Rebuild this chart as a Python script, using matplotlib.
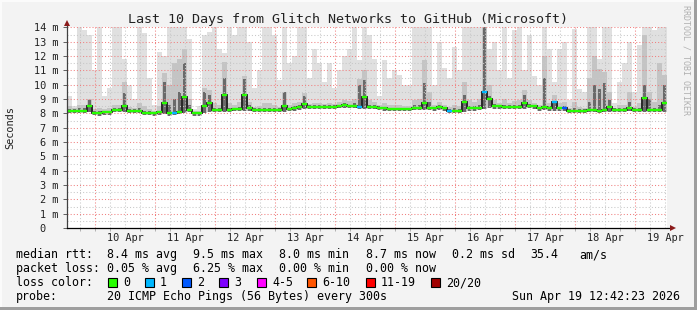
import numpy as np
import pandas as pd
import matplotlib
matplotlib.use("Agg")
import matplotlib.pyplot as plt
from matplotlib.patches import Rectangle

# ---- data (one value per 2 h bin, 10 days, ms) ----
median = [
    8.2, 8.2, 8.2, 8.2, 8.5, 8.05, 8.0, 8.1, 8.1, 8.25,
    8.25, 8.5, 8.2, 8.2, 8.2, 8.05, 8.05, 8.0, 8.1, 8.75,
    8.0, 8.05, 8.1, 9.15, 8.25, 8.0, 8.0, 8.5, 8.7, 8.25,
    8.25, 9.3, 8.25, 8.3, 8.3, 9.3, 8.4, 8.25, 8.25, 8.25,
    8.25, 8.25, 8.25, 8.5, 8.3, 8.4, 8.45, 8.65, 8.45, 8.45,
    8.45, 8.45, 8.45, 8.45, 8.5, 8.55, 8.5, 8.5, 8.45, 9.15,
    8.45, 8.45, 8.4, 8.35, 8.3, 8.3, 8.3, 8.3, 8.3, 8.4,
    8.4, 8.75, 8.4, 8.35, 8.45, 8.35, 8.2, 8.2, 8.2, 8.8,
    8.35, 8.35, 8.4, 9.5, 9.0, 8.5, 8.5, 8.45, 8.45, 8.45,
    8.45, 8.75, 8.5, 8.5, 8.35, 8.45, 8.35, 8.8, 8.35, 8.35,
    8.2, 8.2, 8.2, 8.2, 8.25, 8.25, 8.2, 8.25, 8.45, 8.25,
    8.25, 8.25, 8.4, 8.25, 8.25, 9.1, 8.25, 8.25, 8.25, 8.75,
]
ping_max = [
    9.2, 8.5, 14, 13.8, 13.5, 11.0, 14, 9.2, 9.8, 14,
    14, 11.8, 10.0, 9.0, 14, 13.6, 10.5, 8.6, 12.3, 12.0,
    14, 14, 14, 14, 13.2, 8.3, 8.5, 13.5, 13.7, 14,
    12.5, 12.2, 14, 13.5, 14, 14, 13.0, 9.8, 11.0, 14,
    14, 13.5, 10.3, 14, 11.5, 12.0, 14, 14, 10.5, 12.5,
    11.5, 10.2, 11.5, 9.8, 11.0, 12.0, 12.5, 14, 11.7, 14,
    13.5, 11.8, 9.2, 11.7, 10.5, 11.0, 10.7, 10.0, 10.0, 14,
    14, 14, 14, 10.0, 13.0, 11.2, 10.5, 12.6, 11.0, 14,
    14, 14, 14, 14, 12.5, 13.0, 11.0, 14, 10.5, 13.8,
    14, 11.0, 13.5, 10.6, 10.0, 14, 12.5, 10.2, 12.5, 13.0,
    8.9, 13.9, 9.7, 9.5, 14, 14, 11.8, 14, 14, 8.7,
    10.2, 11.5, 13.0, 9.5, 12.8, 14, 14, 13.8, 14, 14,
]
ping_p90 = [
    8.5, 8.35, 8.6, 8.6, 9.0, 8.3, 8.4, 8.3, 8.35, 8.6,
    8.6, 10.2, 8.45, 8.4, 8.7, 8.5, 8.3, 8.2, 8.5, 10.8,
    10.0, 11.5, 11.8, 12.5, 9.0, 8.15, 8.2, 9.8, 9.6, 8.7,
    8.6, 11.6, 8.7, 8.6, 8.8, 10.6, 8.8, 8.45, 8.5, 8.7,
    8.7, 8.6, 8.45, 9.5, 8.55, 8.7, 8.8, 9.4, 8.65, 8.75,
    8.7, 8.65, 8.7, 8.65, 8.8, 8.9, 8.85, 9.0, 10.4, 11.0,
    8.9, 8.8, 8.6, 8.7, 8.55, 8.6, 8.55, 8.5, 8.5, 8.9,
    9.0, 11.7, 9.5, 8.6, 8.8, 8.6, 8.45, 8.6, 8.5, 10.2,
    8.9, 8.8, 9.0, 14.0, 10.0, 8.9, 8.7, 9.0, 8.7, 8.85,
    8.9, 9.6, 8.9, 8.7, 8.6, 12.0, 8.75, 9.3, 8.7, 8.8,
    8.4, 8.8, 8.45, 8.4, 10.5, 12.0, 11.1, 10.9, 9.5, 8.4,
    8.6, 8.6, 9.5, 8.45, 8.7, 13.5, 9.5, 8.8, 11.5, 10.7,
]
ping_p75 = [
    8.3, 8.3, 8.35, 8.35, 8.9, 8.15, 8.15, 8.2, 8.2, 8.35,
    8.35, 9.4, 8.3, 8.3, 8.35, 8.2, 8.15, 8.1, 8.2, 10.2,
    8.6, 9.0, 9.5, 11.5, 8.6, 8.1, 8.1, 9.5, 9.3, 8.4,
    8.35, 10.5, 8.4, 8.4, 8.45, 10.4, 8.6, 8.35, 8.35, 8.4,
    8.4, 8.35, 8.35, 9.5, 8.4, 8.5, 8.6, 9.2, 8.55, 8.55,
    8.55, 8.55, 8.55, 8.55, 8.6, 8.7, 8.6, 8.7, 10.0, 10.3,
    8.6, 8.55, 8.5, 8.45, 8.4, 8.4, 8.4, 8.4, 8.4, 8.55,
    8.6, 10.1, 8.8, 8.45, 8.6, 8.45, 8.3, 8.35, 8.3, 9.3,
    8.5, 8.5, 8.6, 14.0, 9.2, 8.65, 8.6, 8.6, 8.55, 8.6,
    8.6, 9.3, 8.65, 8.6, 8.45, 10.5, 8.5, 8.85, 8.45, 8.5,
    8.3, 8.4, 8.3, 8.3, 8.8, 10.0, 9.7, 10.1, 8.9, 8.35,
    8.4, 8.4, 8.8, 8.35, 8.4, 10.0, 9.0, 8.4, 8.6, 10.0,
]
ping_min = [
    8.05, 8.05, 8.05, 8.05, 8.1, 7.9, 7.85, 7.9, 7.9, 8.1,
    8.1, 8.1, 8.05, 8.05, 8.05, 7.9, 7.9, 7.85, 7.9, 7.95,
    7.85, 7.9, 7.95, 8.0, 8.1, 7.85, 7.85, 8.05, 8.1, 8.1,
    8.1, 8.1, 8.1, 8.15, 8.15, 8.15, 8.2, 8.1, 8.1, 8.1,
    8.1, 8.1, 8.1, 8.1, 8.15, 8.2, 8.25, 8.3, 8.3, 8.3,
    8.3, 8.3, 8.3, 8.3, 8.35, 8.35, 8.35, 8.35, 8.3, 8.3,
    8.3, 8.3, 8.25, 8.2, 8.15, 8.15, 8.15, 8.15, 8.15, 8.25,
    8.25, 8.25, 8.25, 8.2, 8.25, 8.2, 8.05, 8.05, 8.05, 8.1,
    8.2, 8.2, 8.25, 8.3, 8.4, 8.3, 8.3, 8.3, 8.3, 8.3,
    8.3, 8.3, 8.35, 8.3, 8.2, 8.25, 8.2, 8.2, 8.2, 8.2,
    8.05, 8.05, 8.05, 8.05, 8.1, 8.1, 8.05, 8.1, 8.1, 8.1,
    8.1, 8.1, 8.2, 8.1, 8.1, 8.1, 8.1, 8.1, 8.1, 8.1,
]
lost_pings = [0] * 120
for i, n in [(21, 1), (58, 1), (76, 1), (83, 1), (97, 1), (99, 2)]:
    lost_pings[i] = n

loss_labels = ["0", "1", "2", "3", "4-5", "6-10", "11-19", "20/20"]
loss_colors = ["#26ff00", "#00b8ff", "#0059ff", "#7e00ff",
               "#ff00ff", "#ff5500", "#ff0000", "#a10000"]
loss_upper = [0, 1, 2, 3, 5, 10, 19, 20]

end_time = pd.Timestamp("2026-04-19 12:42:23")
start_time = end_time - pd.Timedelta(days=10)
day_labels = ["10 Apr", "11 Apr", "12 Apr", "13 Apr", "14 Apr",
              "15 Apr", "16 Apr", "17 Apr", "18 Apr", "19 Apr"]

title = "Last 10 Days from Glitch Networks to GitHub (Microsoft)"
rtt_stats = ["8.4 ms avg", "9.5 ms max", "8.0 ms min", "8.7 ms now",
             "0.2 ms sd", "35.4", "am/s"]
loss_stats = ["0.05 % avg", "6.25 % max", "0.00 % min", "0.00 % now"]
probe_text = "20 ICMP Echo Pings (56 Bytes) every 300s"
stamp = end_time.strftime("%a %b %d %H:%M:%S %Y")

# ---- figure ----
W, H = 697, 310
MONO = "DejaVu Sans Mono"
plt.rcParams["font.family"] = MONO

fig = plt.figure(figsize=(W / 100, H / 100), dpi=100, facecolor="#f3f3f3")


def fx(x):
    return x / W


def fy(y):
    return 1 - y / H


ax = fig.add_axes([fx(67), fy(228), 600 / W, (228 - 27.4) / H])
ax.set_facecolor("white")
ax.set_xlim(0, 240)
ax.set_ylim(0, 14)

hours = (end_time - start_time) / pd.Timedelta(hours=1)
edges = np.linspace(0, hours, len(median) + 1)
centers = (edges[:-1] + edges[1:]) / 2
bin_w = edges[1] - edges[0]

# smoke
ax.stairs(ping_max, edges, baseline=ping_min, fill=True, color="#e0e0e0", zorder=1)
ax.stairs(ping_p90, edges, baseline=ping_min, fill=True, color="#c4c4c4", zorder=1.2)
ax.bar(centers, np.subtract(ping_p75, ping_min), bottom=ping_min,
       width=bin_w * 0.6, color="#6a6a6a", lw=0, zorder=1.4)

# grid
sixes = pd.date_range(start_time.ceil("6h"), end_time, freq="6h")
to_h = lambda ts: (ts - start_time) / pd.Timedelta(hours=1)
dot = (0, (1, 2))
for v in np.arange(0.5, 14.01, 0.5):
    major = float(v).is_integer()
    ax.axhline(v, color="#f08080" if major else "#c8c8c8", lw=0.75,
               ls=dot, zorder=2)
for t in sixes:
    major = t.hour == 0
    ax.axvline(to_h(t), color="#f08080" if major else "#c8c8c8", lw=0.75,
               ls=dot, zorder=2)

# median line
ax.stairs(median, edges, baseline=None, color="#1a1a1a", lw=1.3, zorder=3)
seg_colors = [loss_colors[next(k for k, u in enumerate(loss_upper) if n <= u)]
              for n in lost_pings]
ax.hlines(median, edges[:-1], edges[1:], colors=seg_colors, lw=1.7, zorder=4)

# axes
for s in ax.spines.values():
    s.set_visible(False)
ax.plot([0, 0], [0, 14.15], color="#404040", lw=0.9, clip_on=False, zorder=5)
ax.plot([0, 241.5], [0, 0], color="black", lw=0.9, clip_on=False, zorder=5)
ax.plot([0], [14.3], marker="^", ms=4.5, color="#8b1a1a", mew=0,
        clip_on=False, zorder=6)
ax.plot([242.3], [0], marker=">", ms=4.5, color="#8b1a1a", mew=0,
        clip_on=False, zorder=6)

ax.set_yticks(range(0, 15))
ax.set_yticklabels(["0  "] + [f"{v} m" for v in range(1, 15)])
ax.tick_params(axis="y", length=3, width=0.7, color="#606060", pad=3,
               labelsize=7.4, labelcolor="#222222")
noons = [to_h(t) for t in pd.date_range(start_time.ceil("D") + pd.Timedelta(hours=12),
                                           end_time, freq="D")]
ax.set_xticks(noons)
ax.set_xticklabels(day_labels)
ax.tick_params(axis="x", length=0, pad=3.5, labelsize=7.4, labelcolor="#222222")
ax.set_xticks([to_h(t) for t in sixes], minor=True)
ax.tick_params(axis="x", which="minor", length=2, width=0.7, color="#b0b0b0")

# texts
fig.text(fx(348), fy(19), title, ha="center", va="center", fontsize=9.6,
         color="#222222")
fig.text(fx(10), fy(128), "Seconds", rotation=90, ha="center", va="center",
         fontsize=7.4, color="#222222")
fig.text(fx(686), fy(60), "RRDTOOL / TOBI OETIKER", rotation=270,
         ha="center", va="center", fontsize=6, color="#b0b0b0")

fs = 8.35
rows = [254.5, 268.5, 282.5, 296.5]
fig.text(fx(16), fy(rows[0]), "median rtt:", va="center", fontsize=fs)
for x, s in zip([107, 193, 279, 366, 452, 530, 579], rtt_stats):
    fig.text(fx(x), fy(rows[0]), s, va="center", fontsize=fs)
fig.text(fx(16), fy(rows[1]), "packet loss:", va="center", fontsize=fs)
for x, s in zip([107, 193, 279, 366], loss_stats):
    fig.text(fx(x), fy(rows[1]), s, va="center", fontsize=fs)
fig.text(fx(16), fy(rows[2]), "loss color:", va="center", fontsize=fs)
for x, lab, c in zip([108, 145, 182, 219, 257, 307, 366, 431], loss_labels,
                     loss_colors):
    fig.patches.append(Rectangle((fx(x), fy(rows[2] + 4.5)), 9 / W, 9 / H,
                                 transform=fig.transFigure, facecolor=c,
                                 edgecolor="black", lw=0.8))
    fig.text(fx(x + 15), fy(rows[2]), lab, va="center", fontsize=fs)
fig.text(fx(16), fy(rows[3]), "probe:", va="center", fontsize=fs)
fig.text(fx(107), fy(rows[3]), probe_text, va="center", fontsize=fs)
fig.text(fx(680), fy(rows[3]), stamp, va="center", ha="right", fontsize=fs)

# frame
for r in [(0, 0, W, 2, "#fbfbfb"), (0, 0, 2, H, "#fbfbfb"),
          (W - 3, 0, 3, H, "#9e9e9e"), (0, H - 3, W, 3, "#9e9e9e")]:
    x, y, w, h, c = r
    fig.patches.append(Rectangle((fx(x), fy(y + h)), w / W, h / H,
                                 transform=fig.transFigure, facecolor=c,
                                 lw=0))

fig.savefig("out.png", dpi=100, facecolor=fig.get_facecolor())
